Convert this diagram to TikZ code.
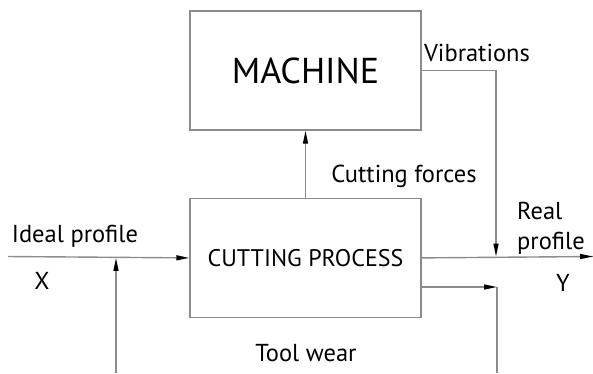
\documentclass[tikz,border=0pt]{standalone}
\usepackage{fontspec}
\setmainfont{PT Sans}
\usetikzlibrary{positioning, arrows.meta}
\definecolor{linegray}{gray}{0.55}
\tikzset{
    block/.style={draw=linegray, line width=1.4pt, align=center, minimum width=231pt, minimum height=119pt, inner sep=0pt},
    arrow/.style={draw=linegray, line width=1.4pt, -{Triangle[length=13pt, width=5pt, fill=black, color=black]}},
    line/.style={draw=linegray, line width=1.4pt},
    lbl/.style={font=\fontsize{24.5}{30}\selectfont, inner sep=0pt}
}

\begin{document}
\begin{tikzpicture}[x=1pt, y=-1pt]
    \useasboundingbox (0,0) rectangle (593,373);

    % Blocks
    \node [block, font=\fontsize{36}{40}\selectfont] (machine) at (305.5,70.5) {MACHINE};
    \node [block, font=\fontsize{24}{28}\selectfont, below=67pt of machine] (cutting) {CUTTING PROCESS};

    % Free ends
    \coordinate (xin) at (8,256.5);
    \coordinate (yout) at (593,256.5);
    \coordinate (feed) at (116,373);
    \coordinate (vib) at (496,256.5);
    \coordinate (wear) at (497,287);
    \coordinate (wearout) at (497,373);

    % Connections
    \draw [arrow] (xin) -- (cutting.west);
    \draw [line] (cutting.east) -- (yout);
    \draw [arrow] ([xshift=-14pt]yout) -- (yout);
    \draw [arrow] (feed) -- (feed |- cutting.west);
    \draw [arrow] (cutting.north) -- (machine.south);
    \draw [arrow] (machine.east) -| (vib);
    \draw [arrow] (cutting.east |- wear) -- (wear);
    \draw [line] (wear) -- (wearout);

    % Labels
    \node [lbl] (ideal) at (75,236) {Ideal profile};
    \node [lbl] (x) at (42,281) {X};
    \node [lbl] (forces) at (404,176) {Cutting forces};
    \node [lbl] (vibr) at (477,53) {Vibrations};
    \node [lbl, anchor=west, align=left] (real) at (517,228) {Real\\profile};
    \node [lbl] (y) at (563,283) {Y};
    \node [lbl] (toolwear) at (306,353) {Tool wear};
\end{tikzpicture}
\end{document}
